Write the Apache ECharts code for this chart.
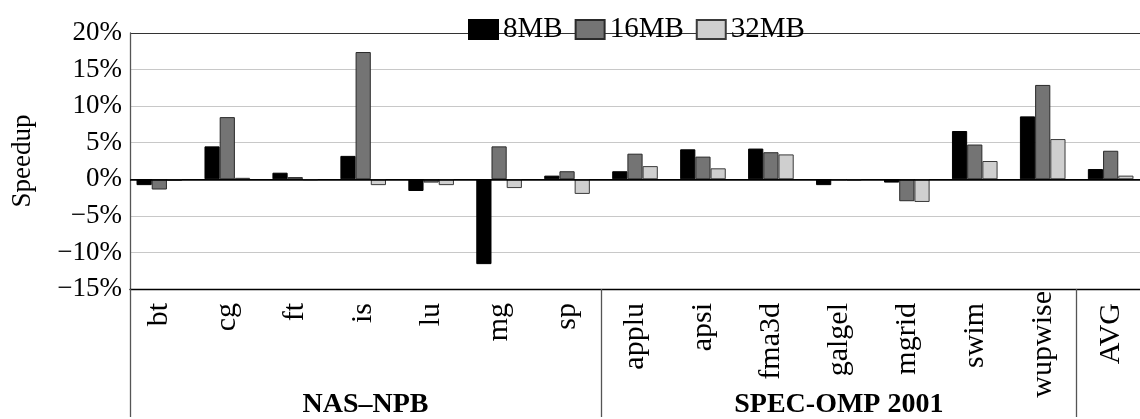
<!DOCTYPE html>
<html>
<head>
<meta charset="utf-8">
<script src="https://cdn.jsdelivr.net/npm/echarts@6/dist/echarts.min.js"></script>
<style>
  html, body { margin: 0; padding: 0; background: #fff; }
  #chart { width: 1140px; height: 419px; }
</style>
</head>
<body>
<div id="chart"></div>
<script>
// Benchmarks, in plotting order
const benchmarks = ['bt', 'cg', 'ft', 'is', 'lu', 'mg', 'sp',
  'applu', 'apsi', 'fma3d', 'galgel', 'mgrid', 'swim', 'wupwise', 'AVG'];

// Benchmark suites and the index of the last benchmark in each
const suiteNames = ['NAS\u2013NPB', 'SPEC-OMP 2001'];
const suiteLastIndex = [6, 13];

// Speedup (%) per cache size
const seriesNames = ['8MB', '16MB', '32MB'];
const speedup8MB  = [-0.8, 4.5, 0.9, 3.2, -1.6, -11.6, 0.5, 1.1, 4.1, 4.2, -0.8, -0.45, 6.6, 8.6, 1.4];
const speedup16MB = [-1.4, 8.5, 0.3, 17.4, -0.45, 4.5, 1.1, 3.5, 3.1, 3.7, -0.1, -3.0, 4.75, 12.9, 3.9];
const speedup32MB = [-0.2, 0.2, -0.1, -0.8, -0.8, -1.2, -2.0, 1.8, 1.5, 3.4, -0.15, -3.1, 2.5, 5.5, 0.5];

// Y axis range and step (%)
const yMin = -15, yMax = 20, yStep = 5;

// ---- layout / styling ----
const xMin = -0.4316, xMax = benchmarks.length - 1 - xMin;
const serif = '"Liberation Serif", "DejaVu Serif", serif';
const fills = ['#000000', '#747474', '#cfcfcf'];
const borders = ['#000000', '#2a2a2a', '#3a3a3a'];
const seriesData = [speedup8MB, speedup16MB, speedup32MB];

const benchPositions = benchmarks.map((_, i) => i);
// Vertical rules under the axis: left frame, then between suites / average
const dividers = [xMin].concat(suiteLastIndex.map(i => i + 0.5));
const suiteStarts = [xMin].concat(suiteLastIndex.slice(0, -1).map(i => i + 0.5));
const suiteCenters = suiteLastIndex.map((last, k) => (suiteStarts[k] + last + 0.5) / 2);

const nYTicks = Math.round((yMax - yMin) / yStep) + 1;
const splitColors = [];
for (let k = 0; k < nYTicks; k++) {
  const v = yMin + k * yStep;
  splitColors.push(v === 0 ? '#000000' : (k === nYTicks - 1 ? '#333333' : '#c8c8c8'));
}

const chart = echarts.init(document.getElementById('chart'));

const option = {
  animation: false,
  backgroundColor: '#ffffff',
  textStyle: { fontFamily: serif },
  legend: {
    data: seriesNames,
    icon: 'rect',
    left: 463,
    top: 10,
    itemWidth: 29,
    itemHeight: 19,
    itemGap: 12,
    textStyle: { fontFamily: serif, fontSize: 29, color: '#000' }
  },
  grid: { left: 130, top: 33, bottom: 128, right: -5.8 },
  xAxis: [
    {
      type: 'value',
      min: xMin,
      max: xMax,
      position: 'bottom',
      axisLine: { onZero: false, lineStyle: { color: '#000', width: 1.3 } },
      splitLine: { show: false },
      axisTick: {
        show: true,
        customValues: dividers,
        length: 128,
        lineStyle: { color: '#555', width: 1.3 }
      },
      axisLabel: {
        customValues: benchPositions,
        rotate: 90,
        margin: 2,
        fontFamily: serif,
        fontSize: 30,
        color: '#000',
        formatter: function (v) {
          const name = benchmarks[Math.round(v)];
          return name === 'wupwise' ? '{hi|' + name + '}' : '{lo|' + name + '}';
        },
        rich: {
          hi: { fontFamily: serif, fontSize: 30, color: '#000' },
          lo: { fontFamily: serif, fontSize: 30, color: '#000', padding: [0, 12, 0, 0] }
        }
      }
    },
    {
      type: 'value',
      min: xMin,
      max: xMax,
      position: 'bottom',
      offset: 102,
      axisLine: { show: false, onZero: false },
      axisTick: { show: false },
      splitLine: { show: false },
      axisLabel: {
        customValues: suiteCenters,
        margin: 0,
        fontFamily: serif,
        fontSize: 28,
        fontWeight: 'bold',
        color: '#000',
        formatter: function (v) {
          let best = 0;
          suiteCenters.forEach((c, k) => {
            if (Math.abs(c - v) < Math.abs(suiteCenters[best] - v)) best = k;
          });
          return suiteNames[best];
        }
      }
    }
  ],
  yAxis: {
    type: 'value',
    min: yMin,
    max: yMax,
    interval: yStep,
    name: 'Speedup',
    nameLocation: 'middle',
    nameGap: 94,
    nameTextStyle: { fontFamily: serif, fontSize: 27, color: '#000' },
    axisLine: { show: true, onZero: false, lineStyle: { color: '#555', width: 1.3 } },
    axisTick: { show: false },
    axisLabel: {
      margin: 8,
      fontFamily: serif,
      fontSize: 27,
      color: '#000',
      formatter: v => (v < 0 ? '\u2212' : '') + Math.abs(v) + '%'
    },
    splitLine: { show: true, lineStyle: { color: splitColors, width: 1 } }
  },
  series: seriesNames.map((name, s) => ({
    name: name,
    type: 'bar',
    xAxisIndex: 0,
    barWidth: 15.2,
    barGap: '0%',
    itemStyle: { color: fills[s], borderColor: borders[s], borderWidth: 1 },
    data: seriesData[s].map((v, i) => [i, v]),
    markLine: s === 0 ? {
      silent: true,
      symbol: 'none',
      label: { show: false },
      lineStyle: { color: '#000', width: 1.5, type: 'solid' },
      data: [{ yAxis: 0 }]
    } : undefined
  }))
};

chart.setOption(option);
</script>
</body>
</html>
